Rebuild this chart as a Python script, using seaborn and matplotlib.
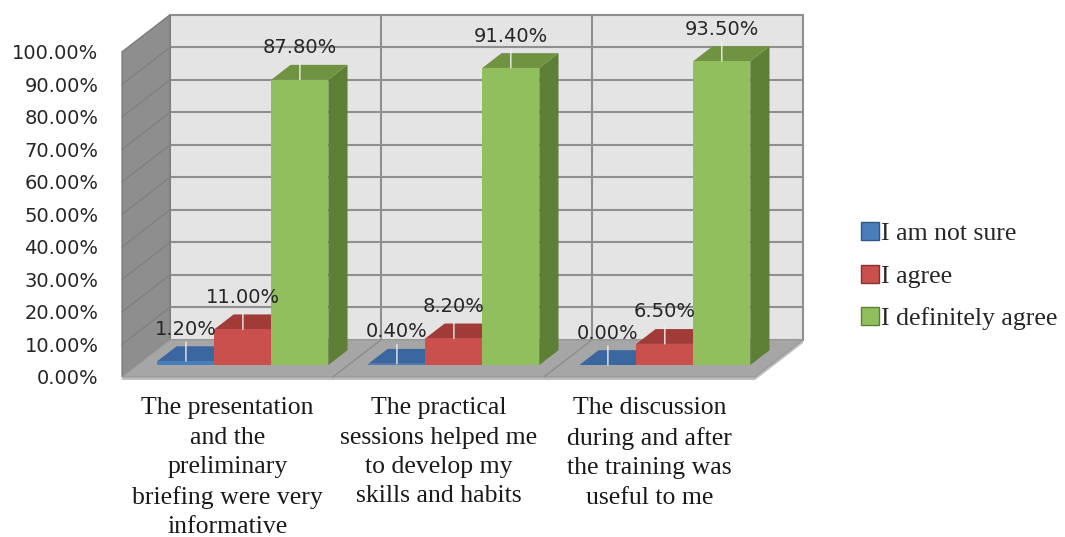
import numpy as np
import pandas as pd
import matplotlib
matplotlib.use("Agg")
import matplotlib.pyplot as plt
import seaborn as sns
from matplotlib.patches import Polygon, Patch

# ---- data ----
statements = [
    "The presentation\nand the\npreliminary\nbriefing were very\ninformative",
    "The practical\nsessions helped me\nto develop my\nskills and habits",
    "The discussion\nduring and after\nthe training was\nuseful to me",
]
responses = ["I am not sure", "I agree", "I definitely agree"]
not_sure = [1.2, 0.4, 0.0]
agree = [11.0, 8.2, 6.5]
definitely = [87.8, 91.4, 93.5]
y_ticks = [0, 10, 20, 30, 40, 50, 60, 70, 80, 90, 100]

# excel-ish 3d colours: front / top / side
front_colors = ["#4a7ebb", "#c9504c", "#92bf5d"]
top_colors = ["#3a67a0", "#a13b38", "#6f9341"]
side_colors = ["#2f5687", "#8a302e", "#5e7f36"]

# oblique projection for the fake 3d box
DX, DY = 0.2275, 11.4   # full depth offset (category units, percent units)
ZB = 0.32               # depth where the bars' front faces sit
BD = 0.40               # depth of a bar


def proj(x, y, z):
    return (x + (z - ZB) * DX, y + (z - ZB) * DY)


df = pd.DataFrame({
    "statement": statements * 3,
    "response": np.repeat(responses, len(statements)),
    "pct": not_sure + agree + definitely,
})

sns.set_style("white")
plt.rcParams["font.family"] = ["DejaVu Sans"]

fig = plt.figure(figsize=(10.65, 5.37), dpi=100)
ax = fig.add_axes([118 / 1065, 155 / 537, 692 / 1065, 374 / 537])

# ---- walls and floor ----
n = len(statements)
x0, x1 = -0.5, n - 0.5
grid_c = "#8f8f8f"

back = [proj(x0, 0, 1), proj(x1, 0, 1), proj(x1, 100, 1), proj(x0, 100, 1)]
side = [proj(x0, 0, 0), proj(x0, 0, 1), proj(x0, 100, 1), proj(x0, 100, 0)]
floor = [proj(x0, 0, 0), proj(x1, 0, 0), proj(x1, 0, 1), proj(x0, 0, 1)]
slab = [proj(x0, 0, 0), proj(x1, 0, 0), proj(x1, -1, 0), proj(x0, -1, 0)]
slab_r = [proj(x1, 0, 0), proj(x1, 0, 1), proj(x1, -1, 1), proj(x1, -1, 0)]

ax.add_patch(Polygon(back, closed=True, fc="#e4e4e4", ec=grid_c, lw=1.5, zorder=0))
ax.add_patch(Polygon(side, closed=True, fc="#8e8e8e", ec="#7a7a7a", lw=1, zorder=0.5))
ax.add_patch(Polygon(slab, closed=True, fc="#bdbdbd", ec="none", zorder=0.6))
ax.add_patch(Polygon(slab_r, closed=True, fc="#bdbdbd", ec="none", zorder=0.6))
ax.add_patch(Polygon(floor, closed=True, fc="#a6a6a6", ec="#9a9a9a", lw=1, zorder=0.7))

for v in y_ticks[1:-1]:
    bx, by = zip(proj(x0, v, 1), proj(x1, v, 1))
    ax.plot(bx, by, color=grid_c, lw=1.5, zorder=0.2)
    sx, sy = zip(proj(x0, v, 0), proj(x0, v, 1))
    ax.plot(sx, sy, color="#808080", lw=1, zorder=0.55)

for i in range(1, n):
    vx, vy = zip(proj(i - 0.5, 0, 1), proj(i - 0.5, 100, 1))
    ax.plot(vx, vy, color=grid_c, lw=1.5, zorder=0.2)
    fx, fy = zip(proj(i - 0.5, 0, 0), proj(i - 0.5, 0, 1))
    ax.plot(fx, fy, color="#8c8c8c", lw=1, zorder=0.8)

# ---- bars ----
sns.barplot(data=df, x="statement", y="pct", hue="response", hue_order=responses,
            palette=front_colors, saturation=1, width=0.81, ax=ax, legend=False,
            edgecolor="none", zorder=3)

bdx, bdy = BD * DX, BD * DY
series = [not_sure, agree, definitely]
for k, (cont, vals) in enumerate(zip(ax.containers, series)):
    for rect, v in zip(cont, vals):
        rx, w, h = rect.get_x(), rect.get_width(), rect.get_height()
        rect.set_zorder(3 + k + 0.5)
        top = [(rx, h), (rx + w, h), (rx + w + bdx, h + bdy), (rx + bdx, h + bdy)]
        sd = [(rx + w, 0), (rx + w + bdx, bdy), (rx + w + bdx, h + bdy), (rx + w, h)]
        ax.add_patch(Polygon(sd, closed=True, fc=side_colors[k], ec="none", zorder=3 + k))
        ax.add_patch(Polygon(top, closed=True, fc=top_colors[k], ec="none", zorder=3 + k))
        cx = rx + w / 2
        ax.annotate(f"{v:.2f}%", xy=(cx, h), xytext=(0, 23), textcoords="offset points",
                    ha="center", va="center", fontsize=14, color="#262626", zorder=10,
                    arrowprops=dict(arrowstyle="-", color="#ececec", lw=1,
                                    shrinkA=0, shrinkB=0))

# ---- axes ----
ax.set_xlim(-0.592, 2.688)
ax.set_ylim(-5.23, 109.85)
for s in ax.spines.values():
    s.set_visible(False)
ax.set_xlabel("")
ax.set_ylabel("")

ax.set_yticks([v - ZB * DY for v in y_ticks])
ax.set_yticklabels([f"{v:.2f}%" for v in y_ticks])
ax.tick_params(axis="y", length=0, pad=14, labelsize=14, labelcolor="#262626")

ax.set_xticks([i - ZB * DX for i in range(n)])
ax.set_xticklabels(statements, fontfamily="Liberation Serif", fontsize=18.5, color="#1a1a1a")
ax.tick_params(axis="x", length=0, pad=11)
for lab in ax.get_xticklabels():
    lab.set_linespacing(1.43)

handles = [Patch(facecolor=c, edgecolor=e, lw=1) for c, e in zip(front_colors, side_colors)]
ax.legend(handles, responses, loc="center left", bbox_to_anchor=(1.04, 0.283),
          frameon=False, prop={"family": "Liberation Serif", "size": 18.5},
          handlelength=0.7, handleheight=0.7, handletextpad=0.1, labelspacing=0.75)

fig.savefig("out.png", dpi=100)
